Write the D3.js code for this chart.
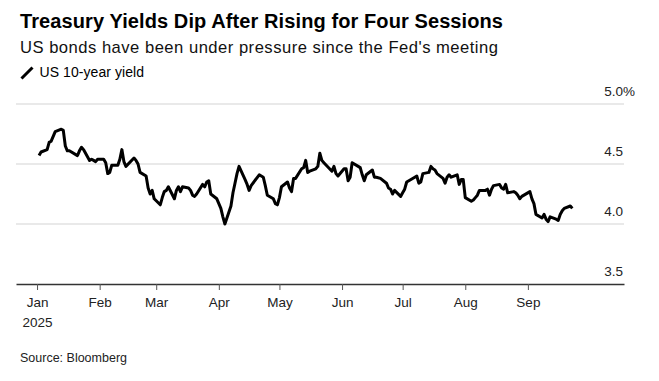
<!DOCTYPE html>
<html>
<head>
<meta charset="utf-8">
<script src="https://cdn.jsdelivr.net/npm/d3@7"></script>
<style>
  html, body { margin: 0; padding: 0; background: #fff; }
  svg { display: block; font-family: "Liberation Sans", Arial, Helvetica, sans-serif; }
</style>
</head>
<body>
<svg id="chart" width="659" height="381"></svg>
<script>
// ---- Data ----
const dates = [
  "2025-01-02","2025-01-03","2025-01-06","2025-01-07","2025-01-08","2025-01-10","2025-01-13","2025-01-14","2025-01-15","2025-01-16","2025-01-17","2025-01-21","2025-01-22","2025-01-23","2025-01-24","2025-01-27","2025-01-28","2025-01-29","2025-01-30","2025-01-31",
  "2025-02-03","2025-02-04","2025-02-05","2025-02-06","2025-02-07","2025-02-10","2025-02-11","2025-02-12","2025-02-13","2025-02-14","2025-02-18","2025-02-19","2025-02-20","2025-02-21","2025-02-24","2025-02-25","2025-02-26","2025-02-27","2025-02-28",
  "2025-03-03","2025-03-04","2025-03-05","2025-03-06","2025-03-07","2025-03-10","2025-03-11","2025-03-12","2025-03-13","2025-03-14","2025-03-17","2025-03-18","2025-03-19","2025-03-20","2025-03-21","2025-03-24","2025-03-25","2025-03-26","2025-03-27","2025-03-28","2025-03-31",
  "2025-04-01","2025-04-02","2025-04-03","2025-04-04","2025-04-07","2025-04-08","2025-04-09","2025-04-10","2025-04-11","2025-04-14","2025-04-15","2025-04-16","2025-04-17","2025-04-21","2025-04-22","2025-04-23","2025-04-24","2025-04-25","2025-04-28","2025-04-29","2025-04-30",
  "2025-05-01","2025-05-02","2025-05-05","2025-05-06","2025-05-07","2025-05-08","2025-05-09","2025-05-12","2025-05-13","2025-05-14","2025-05-15","2025-05-16","2025-05-19","2025-05-20","2025-05-21","2025-05-22","2025-05-23","2025-05-27","2025-05-28","2025-05-29","2025-05-30",
  "2025-06-02","2025-06-03","2025-06-04","2025-06-05","2025-06-06","2025-06-09","2025-06-10","2025-06-11","2025-06-12","2025-06-13","2025-06-16","2025-06-17","2025-06-18","2025-06-20","2025-06-23","2025-06-24","2025-06-25","2025-06-26","2025-06-27","2025-06-30",
  "2025-07-01","2025-07-02","2025-07-03","2025-07-07","2025-07-08","2025-07-09","2025-07-10","2025-07-11","2025-07-14","2025-07-15","2025-07-16","2025-07-17","2025-07-18","2025-07-21","2025-07-22","2025-07-23","2025-07-24","2025-07-25","2025-07-28","2025-07-29","2025-07-30","2025-07-31",
  "2025-08-01","2025-08-04","2025-08-05","2025-08-06","2025-08-07","2025-08-08","2025-08-11","2025-08-12","2025-08-13","2025-08-14","2025-08-15","2025-08-18","2025-08-19","2025-08-20","2025-08-21","2025-08-22","2025-08-25","2025-08-26","2025-08-27","2025-08-28","2025-08-29",
  "2025-09-02","2025-09-03","2025-09-04","2025-09-05","2025-09-08","2025-09-09","2025-09-10","2025-09-11","2025-09-12","2025-09-15","2025-09-16","2025-09-17","2025-09-18","2025-09-19","2025-09-22","2025-09-23"
];
const yields = [
  4.57,4.60,4.62,4.68,4.69,4.77,4.79,4.78,4.65,4.61,4.61,4.57,4.61,4.64,4.62,4.53,4.54,4.53,4.52,4.54,
  4.54,4.51,4.42,4.43,4.49,4.49,4.54,4.62,4.52,4.48,4.55,4.53,4.50,4.43,4.40,4.30,4.25,4.28,4.21,
  4.16,4.22,4.27,4.28,4.31,4.21,4.28,4.31,4.27,4.31,4.30,4.28,4.24,4.23,4.25,4.33,4.31,4.35,4.36,4.25,4.21,
  4.17,4.13,4.06,4.00,4.15,4.26,4.34,4.42,4.48,4.37,4.33,4.28,4.32,4.41,4.40,4.39,4.32,4.24,4.21,4.17,4.16,
  4.22,4.31,4.35,4.30,4.27,4.38,4.38,4.46,4.47,4.53,4.43,4.44,4.46,4.48,4.59,4.53,4.51,4.44,4.48,4.42,4.40,
  4.46,4.46,4.36,4.39,4.51,4.48,4.47,4.41,4.36,4.41,4.45,4.39,4.39,4.38,4.34,4.30,4.29,4.25,4.28,4.23,
  4.26,4.29,4.35,4.39,4.40,4.34,4.35,4.42,4.43,4.48,4.46,4.45,4.42,4.38,4.34,4.39,4.41,4.39,4.41,4.33,4.37,4.37,
  4.22,4.19,4.20,4.22,4.24,4.28,4.28,4.29,4.24,4.29,4.32,4.33,4.30,4.29,4.33,4.26,4.27,4.26,4.24,4.21,4.23,
  4.27,4.21,4.17,4.08,4.05,4.08,4.04,4.02,4.06,4.04,4.03,4.08,4.11,4.13,4.15,4.13
];
const monthTicks = ["2025-01-01","2025-02-01","2025-03-01","2025-04-01","2025-05-01","2025-06-01","2025-07-01","2025-08-01","2025-09-01"];
const monthLabels = ["Jan","Feb","Mar","Apr","May","Jun","Jul","Aug","Sep"];
const yearLabel = "2025";
const yTicks = [3.5, 4.0, 4.5, 5.0];
const yTickLabels = ["3.5", "4.0", "4.5", "5.0"];
const xDomain = ["2024-12-21T14:00", "2025-10-18T14:00"];
const yDomain = [3.5, 5.0];

const title = "Treasury Yields Dip After Rising for Four Sessions";
const subtitle = "US bonds have been under pressure since the Fed's meeting";
const legendLabel = "US 10-year yield";
const source = "Source: Bloomberg";

// ---- Layout ----
const svg = d3.select("#chart");
const plotLeft = 16, plotRight = 624, plotTop = 104, plotBottom = 284;
const parseDay = d3.timeParse("%Y-%m-%d");
const parseT = d3.timeParse("%Y-%m-%dT%H:%M");

const x = d3.scaleTime().domain(xDomain.map(parseT)).range([plotLeft, plotRight]);
const y = d3.scaleLinear().domain(yDomain).range([plotBottom, plotTop]);

const data = dates.map((d, i) => ({ date: parseDay(d), value: yields[i] }));

function fitText(sel, target) {
  const n = sel.text().length;
  const w = sel.node().getComputedTextLength();
  if (n > 1) sel.attr("letter-spacing", ((target - w) / (n - 1)).toFixed(3));
}

// Header
const t = svg.append("text").attr("x", 20).attr("y", 28.3)
  .attr("font-size", 20).attr("font-weight", "bold").attr("fill", "#000").text(title);
fitText(t, 483);
const st = svg.append("text").attr("x", 20).attr("y", 53.3)
  .attr("font-size", 16.6).attr("fill", "#111").text(subtitle);
fitText(st, 478);

// Legend
svg.append("line").attr("x1", 21.5).attr("y1", 78.5).attr("x2", 32.5).attr("y2", 67.5)
  .attr("stroke", "#000").attr("stroke-width", 3);
const lt = svg.append("text").attr("x", 39.5).attr("y", 77.3)
  .attr("font-size", 14).attr("fill", "#000").text(legendLabel);
fitText(lt, 104.5);

// Gridlines
svg.append("g").selectAll("line").data(yTicks.filter(v => v > yDomain[0]))
  .join("line")
  .attr("x1", plotLeft).attr("x2", plotRight)
  .attr("y1", d => y(d)).attr("y2", d => y(d))
  .attr("stroke", "#e2e2e2").attr("stroke-width", 1.5);

// Y labels (right side, above gridlines; % hangs past the number)
const yl = svg.append("g");
yTicks.forEach((v, i) => {
  yl.append("text").attr("x", 623).attr("y", y(v) - 8)
    .attr("text-anchor", "end").attr("font-size", 13.5).attr("fill", "#222")
    .text(yTickLabels[i]);
  if (v === d3.max(yTicks)) {
    yl.append("text").attr("x", 623).attr("y", y(v) - 8)
      .attr("font-size", 13.5).attr("fill", "#222").text("%");
  }
});

// X axis
const xAxis = d3.axisBottom(x)
  .tickValues(monthTicks.map(parseDay))
  .tickFormat((d, i) => monthLabels[i])
  .tickSize(6).tickSizeOuter(0).tickPadding(7);
const gx = svg.append("g").attr("transform", `translate(0,${plotBottom})`).call(xAxis);
gx.select(".domain").attr("stroke", "#333").attr("stroke-width", 1.5);
gx.selectAll(".tick line").attr("stroke", "#555").attr("stroke-width", 1);
gx.selectAll(".tick text").attr("font-size", 13.5).attr("fill", "#222")
  .attr("font-family", "'Liberation Sans', Arial, sans-serif");
gx.select(".tick").append("text")
  .attr("y", 43).attr("fill", "#222").attr("font-size", 13.5)
  .attr("text-anchor", "middle")
  .attr("font-family", "'Liberation Sans', Arial, sans-serif")
  .text(yearLabel);

// Line
const line = d3.line().x(d => x(d.date)).y(d => y(d.value));
svg.append("path").datum(data)
  .attr("fill", "none").attr("stroke", "#000").attr("stroke-width", 3)
  .attr("stroke-linejoin", "round").attr("stroke-linecap", "butt")
  .attr("d", line);

// Source
svg.append("text").attr("x", 20).attr("y", 362)
  .attr("font-size", 12.5).attr("fill", "#222").text(source);
</script>
</body>
</html>
